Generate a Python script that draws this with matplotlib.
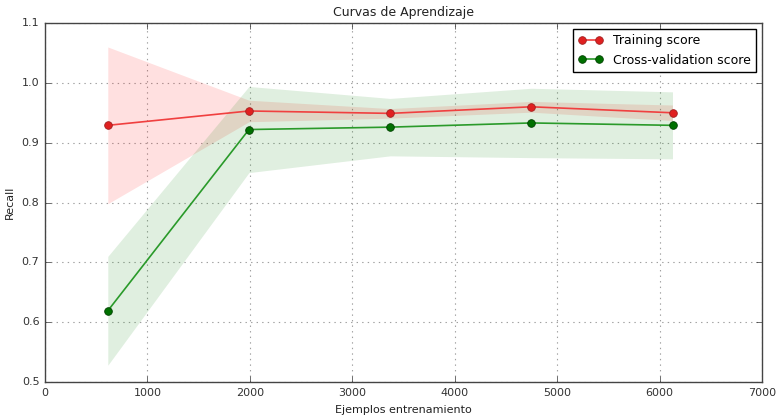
import matplotlib
matplotlib.use("Agg")
import matplotlib.pyplot as plt
import numpy as np

plt.style.use('classic')

# tamaños de entrenamiento y puntuaciones (recall)
train_sizes = np.array([613, 1991, 3369, 4747, 6126])
train_mean = np.array([0.929, 0.953, 0.949, 0.960, 0.950])
train_std = np.array([0.131, 0.018, 0.008, 0.009, 0.013])
cv_mean = np.array([0.619, 0.922, 0.926, 0.933, 0.929])
cv_std = np.array([0.091, 0.072, 0.048, 0.058, 0.056])

fig = plt.figure(figsize=(7.76, 4.15), dpi=100, facecolor='white')
ax = fig.add_axes([0.058, 0.0795, 0.924, 0.865])

ax.grid(True, linestyle=':', color='#a0a0a0', linewidth=0.8)
ax.set_axisbelow(True)

ax.fill_between(train_sizes, train_mean - train_std, train_mean + train_std,
                alpha=0.12, color='r', lw=0)
ax.fill_between(train_sizes, cv_mean - cv_std, cv_mean + cv_std,
                alpha=0.12, color='g', lw=0)
ax.plot(train_sizes, train_mean, 'o-', color='#f04040', mfc='#e02020',
        mec='#a02020', mew=0.6, ms=5.5, lw=1.2, label='Training score')
ax.plot(train_sizes, cv_mean, 'o-', color='#2a9a2a', mfc='#007000',
        mec='#004000', mew=0.6, ms=5.5, lw=1.2, label='Cross-validation score')

ax.set_xlim(0, 7000)
ax.set_ylim(0.5, 1.1)
ax.set_xticks(np.arange(0, 7001, 1000))
ax.set_yticks(np.arange(0.5, 1.11, 0.1))
ax.tick_params(labelsize=8, colors='#333333', direction='in')
for s in ax.spines.values():
    s.set_color('#444444')

ax.set_title('Curvas de Aprendizaje', fontsize=9, color='#222222')
ax.set_xlabel('Ejemplos entrenamiento', fontsize=8, color='#222222')
ax.set_ylabel('Recall', fontsize=8, color='#222222')

leg = ax.legend(loc='best', numpoints=2, fontsize=9, frameon=True)
leg.get_frame().set_edgecolor('black')

fig.savefig('out.png', dpi=100, facecolor='white')
